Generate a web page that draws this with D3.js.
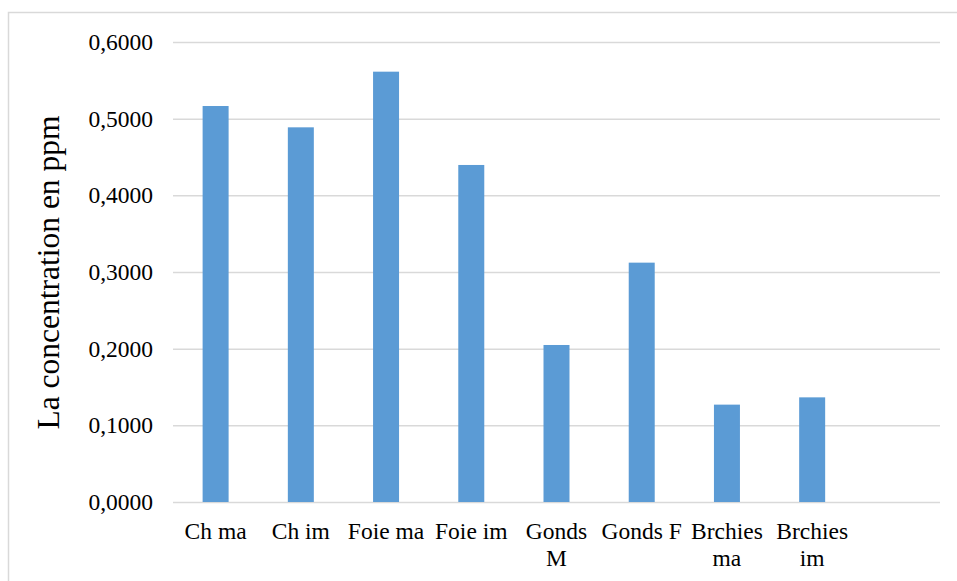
<!DOCTYPE html>
<html>
<head>
<meta charset="utf-8">
<script src="https://cdn.jsdelivr.net/npm/d3@7"></script>
<style>
  html, body { margin: 0; padding: 0; background: #fff; }
  svg { display: block; }
  svg text { font-family: "Liberation Serif", "Times New Roman", serif; }
</style>
</head>
<body>
<svg id="chart" width="957" height="581"></svg>
<script>
// Sample categories (multi-line labels) and measured concentrations (ppm)
const categories = ["Ch ma", "Ch im", "Foie ma", "Foie im", "Gonds M", "Gonds F", "Brchies ma", "Brchies im", ""];
const labelLines = [["Ch ma"], ["Ch im"], ["Foie ma"], ["Foie im"], ["Gonds", "M"], ["Gonds F"], ["Brchies", "ma"], ["Brchies", "im"], [""]];
const values = [0.5165, 0.4887, 0.5613, 0.4396, 0.2048, 0.3122, 0.1270, 0.1365];
const yTicks = [0, 0.1, 0.2, 0.3, 0.4, 0.5, 0.6];
const yTitle = "La concentration en ppm";

const svg = d3.select("#chart");
const W = 957, H = 581;
const plot = { left: 173, right: 940, top: 42, bottom: 502 };
const font = "Liberation Serif, Times New Roman, serif";

// Chart frame
svg.append("rect")
  .attr("x", 8.5).attr("y", 12.5)
  .attr("width", W + 10).attr("height", H + 10)
  .attr("fill", "#fff")
  .attr("stroke", "#d9d9d9").attr("stroke-width", 1.5);

const x = d3.scaleBand()
  .domain(categories.map((c, i) => i))
  .range([plot.left, plot.right])
  .paddingInner(0.695).paddingOuter(0.3475);

const y = d3.scaleLinear().domain([0, 0.6]).range([plot.bottom, plot.top]);

const fmt = v => d3.format(".4f")(v).replace(".", ",");

// Horizontal gridlines and value labels
const yAxis = d3.axisLeft(y).tickValues(yTicks).tickFormat(fmt)
  .tickSize(-(plot.right - plot.left)).tickPadding(20);

const gy = svg.append("g")
  .attr("transform", `translate(${plot.left},0)`)
  .call(yAxis)
  .attr("font-family", null).attr("font-size", null);
gy.select(".domain").remove();
gy.selectAll(".tick line").attr("stroke", "#d9d9d9").attr("stroke-width", 1.5);
gy.selectAll(".tick text")
  .style("font-family", font).style("font-size", "23.5px").attr("fill", "#000");

// Bars
svg.append("g").selectAll("rect")
  .data(values)
  .join("rect")
  .attr("x", (d, i) => x(i))
  .attr("width", x.bandwidth())
  .attr("y", d => y(d))
  .attr("height", d => y(0) - y(d))
  .attr("fill", "#5b9bd5");

// Category labels
const xAxis = d3.axisBottom(x).tickSize(0).tickFormat("");
const gx = svg.append("g")
  .attr("transform", `translate(0,${plot.bottom})`)
  .call(xAxis)
  .attr("font-family", null).attr("font-size", null);
gx.select(".domain").remove();
gx.selectAll(".tick").each(function(d) {
  const t = d3.select(this).append("text")
    .style("font-family", font).style("font-size", "23.5px")
    .attr("fill", "#000").attr("text-anchor", "middle");
  labelLines[d].forEach((line, k) => {
    t.append("tspan").attr("x", 0).attr("y", 37 + k * 27).text(line);
  });
});

// Y-axis title
svg.append("text")
  .attr("transform", `translate(59,${(115 + 430) / 2}) rotate(-90)`)
  .attr("text-anchor", "middle")
  .style("font-family", font).style("font-size", "31.5px")
  .attr("fill", "#000")
  .text(yTitle);
</script>
</body>
</html>
